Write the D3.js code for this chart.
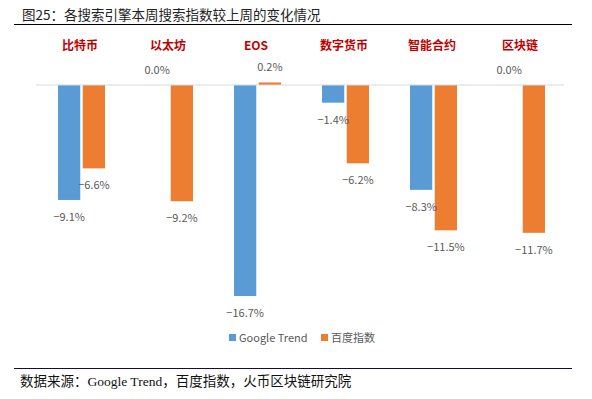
<!DOCTYPE html>
<html>
<head>
<meta charset="utf-8">
<script src="https://cdn.jsdelivr.net/npm/d3@7"></script>
<style>
  body { margin: 0; background: #fff; }
  svg { display: block; }
</style>
</head>
<body>
<svg id="chart" width="592" height="399"></svg>
<script>
const categories = ['比特币', '以太坊', 'EOS', '数字货币', '智能合约', '区块链'];
const seriesNames = ['Google Trend', '百度指数'];
const googleTrend = [-9.1, 0.0, -16.7, -1.4, -8.3, 0.0];
const baiduIndex = [-6.6, -9.2, 0.2, -6.2, -11.5, -11.7];

const colors = ['#5B9BD5', '#ED7D31'];
const svg = d3.select('#chart');
const font = '"Noto Sans CJK SC", "Noto Sans", sans-serif';

// title + rules
svg.append('text')
  .attr('x', 22).attr('y', 20)
  .attr('font-family', font).attr('font-size', 13.5)
  .attr('fill', '#222')
  .text('图25：各搜索引擎本周搜索指数较上周的变化情况');
svg.append('line')
  .attr('x1', 14).attr('x2', 572).attr('y1', 24.5).attr('y2', 24.5)
  .attr('stroke', '#000').attr('stroke-width', 1);

svg.append('line')
  .attr('x1', 14).attr('x2', 572).attr('y1', 368.5).attr('y2', 368.5)
  .attr('stroke', '#140a4a').attr('stroke-width', 1);
svg.append('text')
  .attr('x', 20).attr('y', 386)
  .attr('font-family', '"Liberation Serif", "Noto Sans CJK SC", serif')
  .attr('font-size', 13.5).attr('fill', '#111')
  .text('数据来源：Google Trend，百度指数，火币区块链研究院');

// scales
const x = d3.scaleBand().domain(categories).range([36, 564]);
const xs = d3.scaleBand().domain(seriesNames).range([-22, 25]).paddingInner(0.1);
const y = d3.scaleLinear().domain([-16.7, 0]).range([296, 85]);

const rows = categories.map((c, i) => ({
  cat: c,
  vals: [
    { s: seriesNames[0], v: googleTrend[i], ci: 0 },
    { s: seriesNames[1], v: baiduIndex[i], ci: 1 },
  ],
}));

const g = svg.append('g');
const grp = g.selectAll('g.cat')
  .data(rows)
  .join('g')
  .attr('class', 'cat')
  .attr('transform', (d) => `translate(${x(d.cat) + x.bandwidth() / 2},0)`);

grp.selectAll('rect')
  .data((d) => d.vals)
  .join('rect')
  .attr('x', (d) => xs(d.s))
  .attr('width', xs.bandwidth())
  .attr('y', (d) => Math.min(y(d.v), y(0)))
  .attr('height', (d) => Math.abs(y(d.v) - y(0)))
  .attr('fill', (d) => colors[d.ci]);

const fmt = (v) => (v < 0 ? '\u2212' + d3.format('.1f')(-v) : d3.format('.1f')(v)) + '%';

grp.selectAll('text.val')
  .data((d) => d.vals)
  .join('text')
  .attr('class', 'val')
  .attr('x', (d) => xs(d.s) + xs.bandwidth() / 2)
  .attr('y', (d) => (d.v < 0 ? y(d.v) + 21 : y(d.v) - 11))
  .attr('text-anchor', 'middle')
  .attr('font-family', font).attr('font-size', 11)
  .attr('fill', '#595959')
  .text((d) => fmt(d.v));

// zero line
svg.append('line')
  .attr('x1', 36).attr('x2', 564).attr('y1', y(0)).attr('y2', y(0))
  .attr('stroke', '#D9D9D9').attr('stroke-width', 1);

// category labels
svg.append('g').selectAll('text')
  .data(categories)
  .join('text')
  .attr('x', (d) => x(d) + x.bandwidth() / 2)
  .attr('y', 50)
  .attr('text-anchor', 'middle')
  .attr('font-family', font).attr('font-size', 12).attr('font-weight', 'bold')
  .attr('fill', '#C00000')
  .text((d) => d);

// legend
const legend = svg.append('g').attr('transform', 'translate(229,338)');
const items = [{ name: seriesNames[0], c: colors[0], dx: 0 }, { name: seriesNames[1], c: colors[1], dx: 92 }];
const li = legend.selectAll('g').data(items).join('g')
  .attr('transform', (d) => `translate(${d.dx},0)`);
li.append('rect').attr('x', 0).attr('y', -4).attr('width', 7).attr('height', 7).attr('fill', (d) => d.c);
li.append('text').attr('x', 10).attr('y', 4)
  .attr('font-family', font).attr('font-size', 11).attr('fill', '#595959')
  .text((d) => d.name);
</script>
</body>
</html>
